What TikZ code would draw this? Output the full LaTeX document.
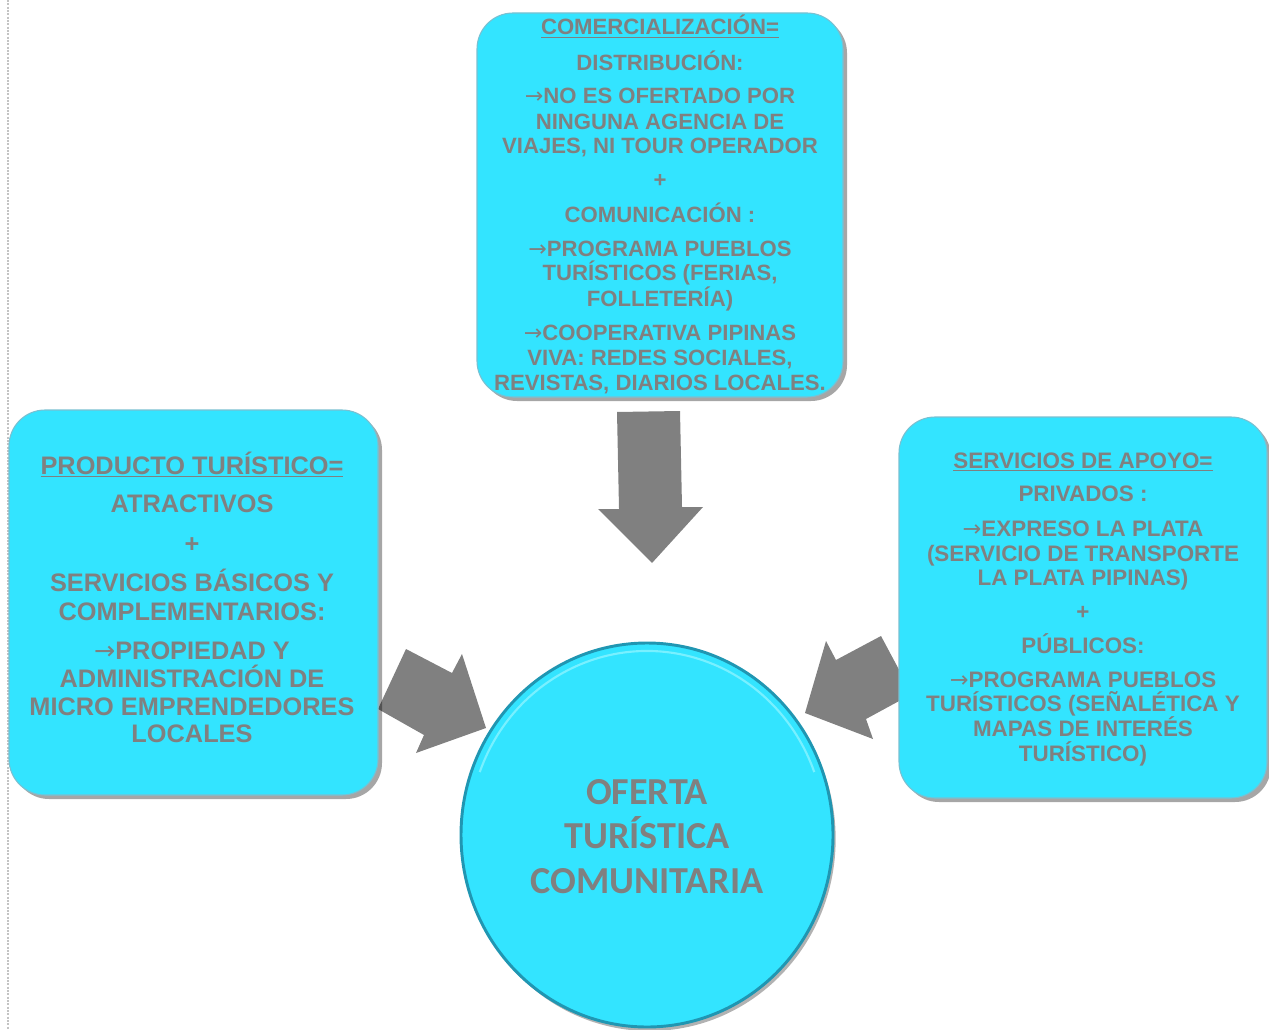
\documentclass[tikz,border=0pt]{standalone}
\usepackage{fontspec}
\setmainfont{Liberation Sans}
\newfontfamily\carlito{Carlito}
\newfontfamily\dejavu{DejaVu Sans}
\newcommand{\rarr}{{\dejavu\mdseries →}}
\usetikzlibrary{shapes.geometric,shadows}
\definecolor{boxcyan}{RGB}{51,228,255}
\definecolor{boxlight}{RGB}{120,240,255}
\definecolor{rim}{RGB}{32,150,178}
\definecolor{txtgray}{RGB}{128,128,128}
\definecolor{arrowgray}{RGB}{128,128,128}
\definecolor{dotgray}{RGB}{195,195,195}
\begin{document}
\begin{tikzpicture}[x=0.75pt,y=-0.75pt,
  panel/.style={rectangle, rounded corners=27pt, fill=boxcyan, draw=rim!60, line width=0.8pt,
    drop shadow={shadow xshift=3pt, shadow yshift=-3pt, opacity=0.35, fill=black}, inner sep=0pt},
  blockarrow/.style={fill=arrowgray, draw=none},
  toptxt/.style={anchor=base, text=txtgray, inner sep=0pt, font=\bfseries\fontsize{16.6}{18}\selectfont},
  lefttxt/.style={anchor=base, text=txtgray, inner sep=0pt, font=\bfseries\fontsize{19}{21}\selectfont},
  righttxt/.style={anchor=base, text=txtgray, inner sep=0pt, font=\bfseries\fontsize{16.8}{19}\selectfont},
  circtxt/.style={anchor=base, text=txtgray, inner sep=0pt, font=\carlito\bfseries\fontsize{28.6}{33}\selectfont}]
\useasboundingbox (0,0) rectangle (1269,1030);

% left dotted margin line
\coordinate (mtop) at (8,0);
\coordinate (mbot) at (8,1030);
\draw[dotgray, line width=1.2pt, dash pattern=on 1.5pt off 1pt] (mtop) -- (mbot);

% block arrows
\fill[blockarrow] (617,412) -- (680,411) -- (682,507) -- (703,507) -- (652,563) -- (598,509) -- (619,509) -- cycle;
\fill[blockarrow] (406,649) -- (452,673) -- (462,654) -- (486,728) -- (416,753) -- (424,735) -- (378,709) -- cycle;
\fill[blockarrow] (881,636) -- (912,694) -- (866,719) -- (873,739) -- (805,713) -- (826,641) -- (836,660) -- cycle;

% panels
\node[panel, minimum width=274.5pt, minimum height=288pt] (top) at (660,205) {};
\node[panel, minimum width=276.75pt, minimum height=288.75pt] (left) at (193.5,602.5) {};
\node[panel, minimum width=276pt, minimum height=285.75pt] (right) at (1083,607.5) {};

% central circle
\node[ellipse, minimum width=279pt, minimum height=288pt, fill=boxcyan, draw=rim, line width=2.2pt,
  drop shadow={shadow xshift=2pt, shadow yshift=-3pt, opacity=0.3, fill=black}] (circ) at (647,835) {};
\draw[boxlight, line width=1.6pt] (647,835) ++(200:178 and 184) arc[start angle=200, end angle=340, x radius=178, y radius=184];

% top panel text
\foreach \i/\y/\t in {
  1/35/{\underline{COMERCIALIZACIÓN=}},
  2/70.7/{DISTRIBUCIÓN:},
  3/104/{\rarr NO ES OFERTADO POR},
  4/129.3/{NINGUNA AGENCIA DE},
  5/154/{VIAJES, NI TOUR OPERADOR},
  6/188/{+},
  7/222.7/{COMUNICACIÓN :},
  8/256.7/{\rarr PROGRAMA PUEBLOS},
  9/280.7/{TURÍSTICOS (FERIAS,},
  10/306/{FOLLETERÍA)},
  11/340/{\rarr COOPERATIVA PIPINAS},
  12/365/{VIVA: REDES SOCIALES,},
  13/390/{REVISTAS, DIARIOS LOCALES.}}
  \node[toptxt] (ta\i) at (660,\y) {\t};

% left panel text
\foreach \i/\y/\t in {
  1/474/{\underline{PRODUCTO TURÍSTICO=}},
  2/512.7/{ATRACTIVOS},
  3/552/{+},
  4/591.7/{SERVICIOS BÁSICOS Y},
  5/620/{COMPLEMENTARIOS:},
  6/659.3/{\rarr PROPIEDAD Y},
  7/687.3/{ADMINISTRACIÓN DE},
  8/715/{MICRO EMPRENDEDORES},
  9/742.7/{LOCALES}}
  \node[lefttxt] (la\i) at (192,\y) {\t};

% right panel text
\foreach \i/\y/\t in {
  1/468.3/{\underline{SERVICIOS DE APOYO=}},
  2/501.7/{PRIVADOS :},
  3/536.7/{\rarr EXPRESO LA PLATA},
  4/561/{(SERVICIO DE TRANSPORTE},
  5/585/{LA PLATA PIPINAS)},
  6/619/{+},
  7/653.3/{PÚBLICOS:},
  8/687.3/{\rarr PROGRAMA PUEBLOS},
  9/711.7/{TURÍSTICOS (SEÑALÉTICA Y},
  10/736.7/{MAPAS DE INTERÉS},
  11/761.7/{TURÍSTICO)}}
  \node[righttxt] (ra\i) at (1083,\y) {\t};

% circle text
\node[circtxt] (o1) at (647,804) {OFERTA};
\node[circtxt] (o2) at (647,848) {TURÍSTICA};
\node[circtxt] (o3) at (647,893) {COMUNITARIA};
\end{tikzpicture}
\end{document}
